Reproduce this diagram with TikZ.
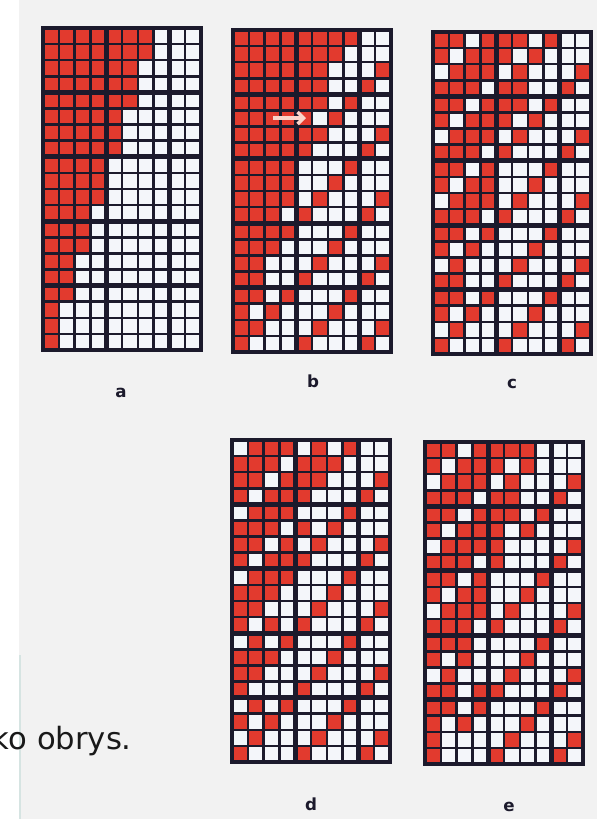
\documentclass[tikz,border=0pt]{standalone}
\usepackage{fontspec}
\setmainfont{DejaVu Sans}
\usepackage{tikz}
\usetikzlibrary{arrows.meta}
\usepackage{xcolor}
\definecolor{cellred}{RGB}{226,58,46}
\definecolor{cellwhite}{RGB}{244,246,250}
\definecolor{gridink}{RGB}{28,26,44}
\definecolor{pagegray}{RGB}{242,242,242}
\definecolor{arrowpink}{RGB}{250,212,202}
\definecolor{edgeteal}{RGB}{214,228,226}

\tikzset{
  thingrid/.style={gridink,line width=1.9pt},
  blockgrid/.style={gridink,line width=3.5pt},
  panellabel/.style={font=\fontsize{12.5}{15}\selectfont\bfseries,text=gridink,anchor=base,inner sep=0pt},
}

% one panel: origin, then 20 rows of 10 cells (1 = red)
\newcommand{\drawpanel}[2]{%
  \begin{scope}[shift={#1},x=11.85pt,y=-12.075pt]
    \fill[cellwhite] (0,0) rectangle (10,20);
    \foreach \row [count=\r] in {#2}{
      \foreach \c [count=\k] in \row{
        \ifnum\c=1 \fill[cellred] (\k-1,\r-1) rectangle (\k,\r);\fi
      }
    }
    \foreach \k in {1,...,9} \draw[thingrid] (\k,0) -- (\k,20);
    \foreach \r in {1,...,19} \draw[thingrid] (0,\r) -- (10,\r);
    \foreach \k in {4,8} \draw[blockgrid] (\k,0) -- (\k,20);
    \foreach \r in {4,8,12,16} \draw[blockgrid] (0,\r) -- (10,\r);
    \draw[blockgrid] (0,0) rectangle (10,20);
  \end{scope}}

\begin{document}
\begin{tikzpicture}[x=0.75pt,y=-0.75pt,>=Latex]
  \useasboundingbox (0,0) rectangle (597,819);
  \fill[white] (0,0) rectangle (597,819);
  \fill[pagegray] (19,0) rectangle (597,819);
  \draw[edgeteal,line width=1.5pt] (20,655) -- (20,819);

  % a
  \drawpanel{(43,28)}{
    {1,1,1,1,1,1,1,0,0,0},{1,1,1,1,1,1,1,0,0,0},{1,1,1,1,1,1,0,0,0,0},{1,1,1,1,1,1,0,0,0,0},
    {1,1,1,1,1,1,0,0,0,0},{1,1,1,1,1,0,0,0,0,0},{1,1,1,1,1,0,0,0,0,0},{1,1,1,1,1,0,0,0,0,0},
    {1,1,1,1,0,0,0,0,0,0},{1,1,1,1,0,0,0,0,0,0},{1,1,1,1,0,0,0,0,0,0},{1,1,1,0,0,0,0,0,0,0},
    {1,1,1,0,0,0,0,0,0,0},{1,1,1,0,0,0,0,0,0,0},{1,1,0,0,0,0,0,0,0,0},{1,1,0,0,0,0,0,0,0,0},
    {1,1,0,0,0,0,0,0,0,0},{1,0,0,0,0,0,0,0,0,0},{1,0,0,0,0,0,0,0,0,0},{1,0,0,0,0,0,0,0,0,0}}
  % b
  \drawpanel{(233,30)}{
    {1,1,1,1,1,1,1,1,0,0},{1,1,1,1,1,1,1,0,0,0},{1,1,1,1,1,1,0,0,0,1},{1,1,1,1,1,1,0,0,1,0},
    {1,1,1,1,1,1,0,1,0,0},{1,1,1,1,1,0,1,0,0,0},{1,1,1,1,1,1,0,0,0,1},{1,1,1,1,1,0,0,0,1,0},
    {1,1,1,1,0,0,0,1,0,0},{1,1,1,1,0,0,1,0,0,0},{1,1,1,1,0,1,0,0,0,1},{1,1,1,0,1,0,0,0,1,0},
    {1,1,1,1,0,0,0,1,0,0},{1,1,1,0,0,0,1,0,0,0},{1,1,0,0,0,1,0,0,0,1},{1,1,0,0,1,0,0,0,1,0},
    {1,1,0,1,0,0,0,1,0,0},{1,0,1,0,0,0,1,0,0,0},{1,1,0,0,0,1,0,0,0,1},{1,0,0,0,1,0,0,0,1,0}}
  % c
  \drawpanel{(433,32)}{
    {1,1,0,1,1,1,0,1,0,0},{1,0,1,1,1,0,1,0,0,0},{0,1,1,1,0,1,0,0,0,1},{1,1,1,0,1,1,0,0,1,0},
    {1,1,0,1,1,1,0,1,0,0},{1,0,1,1,1,0,1,0,0,0},{0,1,1,1,0,1,0,0,0,1},{1,1,1,0,1,0,0,0,1,0},
    {1,1,0,1,0,0,0,1,0,0},{1,0,1,1,0,0,1,0,0,0},{0,1,1,1,0,1,0,0,0,1},{1,1,1,0,1,0,0,0,1,0},
    {1,1,0,1,0,0,0,1,0,0},{1,0,1,0,0,0,1,0,0,0},{0,1,0,0,0,1,0,0,0,1},{1,1,0,0,1,0,0,0,1,0},
    {1,1,0,1,0,0,0,1,0,0},{1,0,1,0,0,0,1,0,0,0},{0,1,0,0,0,1,0,0,0,1},{1,0,0,0,1,0,0,0,1,0}}
  % d
  \drawpanel{(232,440)}{
    {0,1,1,1,0,1,0,1,0,0},{1,1,1,0,1,1,1,0,0,0},{1,1,0,1,1,1,0,0,0,1},{1,0,1,1,1,0,0,0,1,0},
    {0,1,1,1,0,0,0,1,0,0},{1,1,1,0,1,0,1,0,0,0},{1,1,0,1,0,1,0,0,0,1},{1,0,1,1,1,0,0,0,1,0},
    {0,1,1,1,0,0,0,1,0,0},{1,1,1,0,0,0,1,0,0,0},{1,1,0,0,0,1,0,0,0,1},{1,0,1,0,1,0,0,0,1,0},
    {0,1,0,1,0,0,0,1,0,0},{1,1,1,0,0,0,1,0,0,0},{1,1,0,0,0,1,0,0,0,1},{1,0,0,0,1,0,0,0,1,0},
    {0,1,0,1,0,0,0,1,0,0},{1,0,1,0,0,0,1,0,0,0},{0,1,0,0,0,1,0,0,0,1},{1,0,0,0,1,0,0,0,1,0}}
  % e
  \drawpanel{(425,442)}{
    {1,1,0,1,1,1,1,0,0,0},{1,0,1,1,1,0,1,0,0,0},{0,1,1,1,0,1,0,0,0,1},{1,1,1,0,1,1,0,0,1,0},
    {1,1,0,1,1,1,0,1,0,0},{1,0,1,1,1,0,1,0,0,0},{0,1,1,1,1,0,0,0,0,1},{1,1,1,0,1,0,0,0,1,0},
    {1,1,0,1,0,0,0,1,0,0},{1,0,1,1,0,0,1,0,0,0},{0,1,1,1,0,1,0,0,0,1},{1,1,1,0,1,0,0,0,1,0},
    {1,1,1,0,0,0,0,1,0,0},{1,0,1,0,0,0,1,0,0,0},{0,1,0,0,0,1,0,0,0,1},{1,1,0,1,1,0,0,0,1,0},
    {1,1,0,1,0,0,0,1,0,0},{1,0,1,0,0,0,1,0,0,0},{1,0,0,0,0,1,0,0,0,1},{1,0,0,0,1,0,0,0,1,0}}

  % arrow in b
  \coordinate (arrow-tail) at (273,118);
  \coordinate (arrow-head) at (306,118);
  \draw[arrowpink,line width=2.6pt,-{Straight Barb[length=4.5pt,width=9pt]}] (arrow-tail) -- (arrow-head);

  \node[panellabel] (lab-a) at (121,397) {a};
  \node[panellabel] (lab-b) at (313,387) {b};
  \node[panellabel] (lab-c) at (512,388) {c};
  \node[panellabel] (lab-d) at (311,810) {d};
  \node[panellabel] (lab-e) at (509,811) {e};

  \node[font=\fontsize{23}{27}\selectfont,text=black!90,anchor=base east,inner sep=0pt] (caption) at (132,749) {ko obrys.};
\end{tikzpicture}
\end{document}
